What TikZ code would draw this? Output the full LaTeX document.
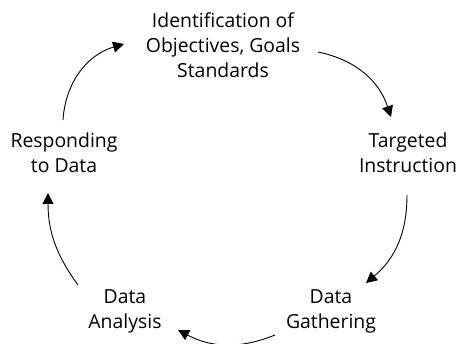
\documentclass[tikz,border=0pt]{standalone}
\usepackage{fontspec}
\setmainfont{Open Sans}
\usetikzlibrary{arrows.meta}
\begin{document}
\begin{tikzpicture}[x=1pt,y=-1pt,
  lbl/.style={align=center,inner sep=0pt,font=\fontsize{19.4}{25}\selectfont},
  cyc/.style={line width=0.9pt,-{Triangle[length=11pt,width=11pt]}}]
\useasboundingbox (0,0) rectangle (463,344);
\clip (0,0) rectangle (463,344);
\node[lbl] (obj) at (223,45) {Identification of\\Objectives, Goals\\Standards};
\node[lbl] (ti) at (408,153) {Targeted\\Instruction};
\node[lbl] (dg) at (331,311) {Data\\Gathering};
\node[lbl] (da) at (125,311) {Data\\Analysis};
\node[lbl] (rd) at (64,153) {Responding\\to Data};
\coordinate (a1s) at (318,52);  \coordinate (a1e) at (391,117);
\coordinate (a2s) at (407,195); \coordinate (a2e) at (366,283);
\coordinate (a3s) at (275,335); \coordinate (a3e) at (178,330);
\coordinate (a4s) at (78,285);  \coordinate (a4e) at (48,193);
\coordinate (a5s) at (63,120);  \coordinate (a5e) at (124,44);
\draw[cyc] (a1s) to[bend left=30] (a1e);
\draw[cyc] (a2s) to[bend left=25] (a2e);
\draw[cyc] (a3s) to[bend left=25] (a3e);
\draw[cyc] (a4s) to[bend left=18] (a4e);
\draw[cyc] (a5s) to[bend left=35] (a5e);
\end{tikzpicture}
\end{document}
